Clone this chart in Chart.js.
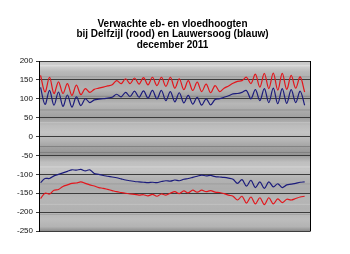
<!DOCTYPE html>
<html>
<head>
<meta charset="utf-8">
<script src="https://cdn.jsdelivr.net/npm/chart.js@4.4.1/dist/chart.umd.min.js"></script>
<style>
html,body{margin:0;padding:0;background:#fff;}
#wrap{width:350px;height:254px;position:relative;}
</style>
</head>
<body>
<div id="wrap"><canvas id="c" width="350" height="254"></canvas></div>
<script>
// ---- data ----
const titleLines = [
  "Verwachte eb- en vloedhoogten",
  "bij Delfzijl (rood) en Lauwersoog (blauw)",
  "december 2011"
];
// tide number within the month (x position)
const tideNumbers = [1,2,3,4,5,6,7,8,9,10,11,12,13,14,15,16,17,18,19,20,
  21,22,23,24,25,26,27,28,29,30,31,32,33,34,35,36,37,38,39,40,
  41,42,43,44,45,46,47,48,49,50,51,52,53,54,55,56,57,58,59,60];
// high water, cm
const delfzijlHigh = [162,118,157,114,145,114,140,109,136,111,127,117,125,128,131,134,137,148,140,153,
  140,155,139,156,137,157,135,157,133,157,128,153,124,148,122,144,119,139,116,135,
  119,128,134,141,146,148,157,140,165,131,167,127,168,123,167,125,162,128,158,118];
const lauwersoogHigh = [130,85,122,83,118,80,110,78,105,82,100,90,97,99,100,102,104,112,105,117,
  106,120,104,121,102,122,100,122,95,119,92,116,89,109,86,104,83,100,84,98,
  100,104,108,113,114,117,122,100,124,95,127,90,128,87,127,88,124,90,120,83];
// low water, cm
const delfzijlLow = [-164,-150,-152,-142,-140,-132,-128,-124,-123,-120,-124,-128,-131,-135,-137,-140,-143,-146,-148,-150,
  -152,-153,-155,-154,-157,-153,-158,-152,-155,-150,-146,-151,-144,-149,-142,-147,-142,-146,-143,-147,
  -148,-151,-155,-158,-168,-158,-176,-160,-178,-162,-180,-162,-178,-165,-175,-166,-168,-164,-160,-158];
const lauwersoogLow = [-122,-111,-111,-104,-100,-96,-92,-88,-89,-87,-91,-88,-98,-100,-103,-105,-107,-109,-112,-115,
  -117,-119,-120,-121,-122,-121,-122,-119,-117,-118,-115,-117,-113,-111,-108,-105,-102,-104,-103,-106,
  -107,-108,-110,-113,-124,-114,-131,-116,-135,-120,-137,-120,-133,-125,-135,-128,-126,-124,-121,-120];
const yMin = -250, yMax = 200, yStep = 50;

const RED = '#e3161c';
const BLUE = '#1c1c7c';

function pts(arr){ return arr.map((v,i)=>({x:tideNumbers[i], y:v})); }

// textured grey plot background (decoration only)
const bgPlugin = {
  id:'bg',
  beforeDraw(chart){
    const {ctx, chartArea:a} = chart;
    ctx.save();
    ctx.fillStyle = '#ffffff';
    ctx.fillRect(0,0,chart.width,chart.height);
    const g = ctx.createLinearGradient(0,a.top,0,a.bottom);
    const stops = [
      [0.00,'#c6c6c6'],[0.03,'#d0d0d0'],[0.065,'#b8b8b8'],[0.11,'#adadad'],
      [0.17,'#b3b3b3'],[0.21,'#a0a0a0'],[0.25,'#b7b7b7'],[0.30,'#a9a9a9'],
      [0.335,'#9f9f9f'],[0.38,'#bcbcbc'],[0.42,'#c4c4c4'],[0.465,'#b6b6b6'],
      [0.51,'#a0a0a0'],[0.55,'#969696'],[0.595,'#bfbfbf'],[0.64,'#c6c6c6'],
      [0.69,'#b3b3b3'],[0.75,'#acacac'],[0.81,'#b6b6b6'],[0.87,'#b1b1b1'],
      [0.93,'#bdbdbd'],[0.975,'#b3b3b3'],[1.00,'#8c8c8c']
    ];
    stops.forEach(s=>g.addColorStop(s[0],s[1]));
    ctx.fillStyle = g;
    ctx.fillRect(a.left,a.top,a.right-a.left,a.bottom-a.top);
    // faint horizontal streaks of the texture
    const streaks = [
      [0.025,'rgba(255,255,255,0.35)'],[0.09,'rgba(90,90,90,0.25)'],[0.205,'rgba(80,80,80,0.3)'],
      [0.285,'rgba(80,80,80,0.3)'],[0.36,'rgba(255,255,255,0.25)'],[0.5,'rgba(70,70,70,0.35)'],
      [0.535,'rgba(70,70,70,0.3)'],[0.62,'rgba(255,255,255,0.3)'],[0.72,'rgba(90,90,90,0.2)'],
      [0.84,'rgba(255,255,255,0.2)'],[0.9,'rgba(90,90,90,0.2)']
    ];
    const h = a.bottom - a.top;
    streaks.forEach(s=>{
      ctx.fillStyle = s[1];
      ctx.fillRect(a.left, a.top + s[0]*h, a.right-a.left, 1);
    });
    ctx.restore();
  },
  afterDraw(chart){
    const {ctx, chartArea:a} = chart;
    ctx.save();
    ctx.strokeStyle = '#000';
    ctx.lineWidth = 1;
    ctx.beginPath();
    ctx.moveTo(Math.round(a.right)+0.5, a.top);
    ctx.lineTo(Math.round(a.right)+0.5, a.bottom+0.5);
    ctx.stroke();
    // title
    ctx.fillStyle = '#000';
    ctx.font = 'bold 10px "Liberation Sans", Arial, sans-serif';
    ctx.textAlign = 'center';
    ctx.textBaseline = 'alphabetic';
    const base = [26.6, 37.3, 48];
    titleLines.forEach((t,i)=>ctx.fillText(t, 172.5, base[i]));
    ctx.restore();
  }
};

new Chart(document.getElementById('c'), {
  type:'line',
  data:{
    datasets:[
      {label:'Delfzijl hoogwater', data:pts(delfzijlHigh), borderColor:RED},
      {label:'Lauwersoog hoogwater', data:pts(lauwersoogHigh), borderColor:BLUE},
      {label:'Lauwersoog laagwater', data:pts(lauwersoogLow), borderColor:BLUE},
      {label:'Delfzijl laagwater', data:pts(delfzijlLow), borderColor:RED}
    ]
  },
  options:{
    responsive:false,
    devicePixelRatio:1,
    animation:false,
    events:[],
    elements:{
      line:{borderWidth:1.2, tension:0.35, fill:false},
      point:{radius:0}
    },
    layout:{padding:{top:61, right:40, bottom:23, left:0}},
    plugins:{legend:{display:false}, title:{display:false}, tooltip:{enabled:false}},
    scales:{
      x:{type:'linear', display:false, min:0.65, max:61.2},
      y:{
        min:yMin, max:yMax,
        afterFit(s){ s.width = 39; },
        ticks:{stepSize:yStep, color:'#111', padding:3,
          font:{family:'"Liberation Sans", Arial, sans-serif', size:8}},
        grid:{color:'#3c3c3c', lineWidth:1, tickLength:3, drawTicks:true},
        border:{display:true, color:'#000', width:1}
      }
    }
  },
  plugins:[bgPlugin]
});
</script>
</body>
</html>
